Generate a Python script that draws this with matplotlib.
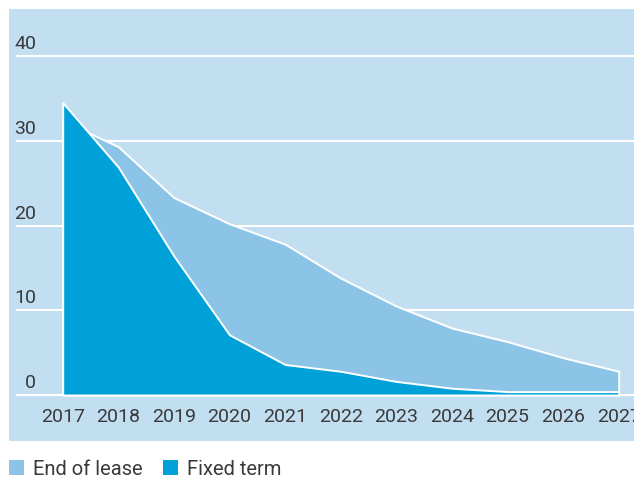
import matplotlib.pyplot as plt
from matplotlib.patches import Patch

plt.rcParams['font.family'] = ['Roboto', 'DejaVu Sans']

years = [2017, 2018, 2019, 2020, 2021, 2022, 2023, 2024, 2025, 2026, 2027]
end_of_lease = [32.4, 29.3, 23.3, 20.2, 17.8, 13.8, 10.5, 7.9, 6.3, 4.4, 2.8]
fixed_term = [34.5, 26.9, 16.4, 7.1, 3.6, 2.8, 1.6, 0.8, 0.4, 0.4, 0.4]
y_ticks = [0, 10, 20, 30, 40]
labels = ['End of lease', 'Fixed term']

bg = '#c2dff2'
c_light = '#8cc4e7'
c_dark = '#00a1d8'
txt = '#3a3a3a'

fig = plt.figure(figsize=(6.34, 4.81), dpi=100)
ax = fig.add_axes([9 / 634, 39 / 481, 625 / 634, 432 / 481])
ax.set_facecolor(bg)
ax.set_xlim(2016.034, 2027.275)
ax.set_ylim(-5.43, 45.55)
for s in ax.spines.values():
    s.set_visible(False)
ax.set_xticks([])
ax.set_yticks([])

# white gridlines with the value sitting just above each line
ax.hlines(y_ticks, 2016.16, 2027.275, colors='white', linewidth=1.5, zorder=1)
for v in y_ticks:
    ax.text(2016.52, v + 0.45, str(v), ha='right', va='bottom',
            fontsize=14, color=txt, zorder=5)

# overlapping areas, fixed term drawn in front
ax.fill_between(years, 0, end_of_lease, facecolor=c_light, edgecolor='white',
                linewidth=1.4, zorder=2)
ax.fill_between(years, 0, fixed_term, facecolor=c_dark, edgecolor='white',
                linewidth=1.4, zorder=3)

for yr in years:
    ax.text(yr, -2.45, str(yr), ha='center', va='center',
            fontsize=14, color=txt, clip_on=False)

handles = [Patch(facecolor=c_light), Patch(facecolor=c_dark)]
fig.legend(handles, labels, loc='center left', bbox_to_anchor=(9 / 634, 1 - 470 / 481),
           ncol=2, frameon=False, fontsize=14.5, handlelength=0.75, handleheight=0.75,
           handletextpad=0.45, columnspacing=1.0, borderpad=0, borderaxespad=0,
           labelcolor=txt)

fig.savefig('out.png', dpi=100)
